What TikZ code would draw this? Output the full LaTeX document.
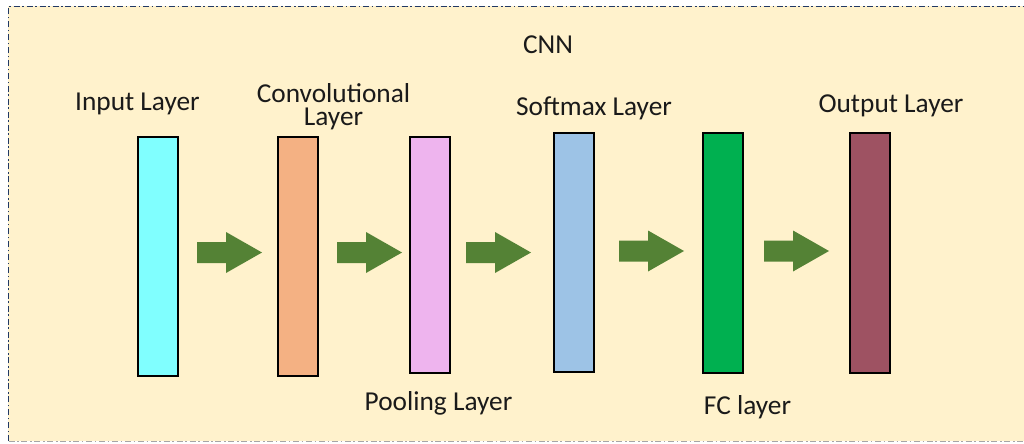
\documentclass[tikz,border=0pt]{standalone}
\usepackage{fontspec}
\setmainfont{Carlito}
\definecolor{bgc}{HTML}{FFF2CC}
\definecolor{framec}{HTML}{203864}
\definecolor{framegray}{HTML}{A6A6A6}
\definecolor{arrowc}{HTML}{548235}
\definecolor{cinput}{HTML}{80FFFF}
\definecolor{cconv}{HTML}{F4B183}
\definecolor{cpool}{HTML}{EEB4EE}
\definecolor{csoft}{HTML}{9DC3E6}
\definecolor{cfc}{HTML}{00B050}
\definecolor{cout}{HTML}{9E5262}
\definecolor{txtc}{HTML}{1A1A1A}
\tikzset{
  layerbox/.style={draw=black, line width=1.5pt, minimum width=30pt, inner sep=0pt, outer sep=0pt},
  lbl/.style={anchor=base, text=txtc, font=\fontsize{20.5}{17.25}\selectfont, align=center, inner sep=0pt},
  border/.style={line width=0.9pt, dash pattern=on 4.5pt off 2pt on 1.2pt off 2pt},
  fatarrow/.pic={\fill[arrowc] (0,-10.5) -- (29,-10.5) -- (29,-20.5) -- (65,0) -- (29,20.5) -- (29,10.5) -- (0,10.5) -- cycle;}
}
\begin{document}
\begin{tikzpicture}[x=0.75pt, y=-0.75pt]
\useasboundingbox (0,0) rectangle (1024,443);
\clip (0,0) rectangle (1024,443);
% background panel
\fill[bgc] (8,6) rectangle (1030,441);
\draw[border, framec] (8.5,441) -- (8.5,6.5) -- (1030,6.5);
\draw[border, framegray] (8.5,441.5) -- (1030,441.5);
% title
\node[lbl] (title) at (548,53) {CNN};
% layer boxes
\node[layerbox, fill=cinput, minimum height=179.25pt] (inp) at (158,256.5) {};
\node[layerbox, fill=cconv, minimum height=179.25pt] (conv) at (298,256.5) {};
\node[layerbox, fill=cpool, minimum height=177pt] (pool) at (429.5,255) {};
\node[layerbox, fill=csoft, minimum height=179.25pt] (soft) at (573.5,252.5) {};
\node[layerbox, fill=cfc, minimum height=180pt] (fc) at (722.5,253) {};
\node[layerbox, fill=cout, minimum height=180pt] (outl) at (870,253) {};
% labels
\node[lbl] (linp) at (137.5,110) {Input Layer};
\node[lbl, anchor=center] (lconv) at (333.5,107) {Convolutional\\Layer};
\node[lbl] (lpool) at (438.5,410) {Pooling Layer};
\node[lbl] (lsoft) at (594,115) {Softmax Layer};
\node[lbl] (lfc) at (747.5,414) {FC layer};
\node[lbl] (lout) at (891,112) {Output Layer};
% arrows
\pic at (197,252.5) {fatarrow};
\pic at (337,252.5) {fatarrow};
\pic at (466,252.5) {fatarrow};
\pic at (619,251) {fatarrow};
\pic at (764,251) {fatarrow};
\end{tikzpicture}
\end{document}
